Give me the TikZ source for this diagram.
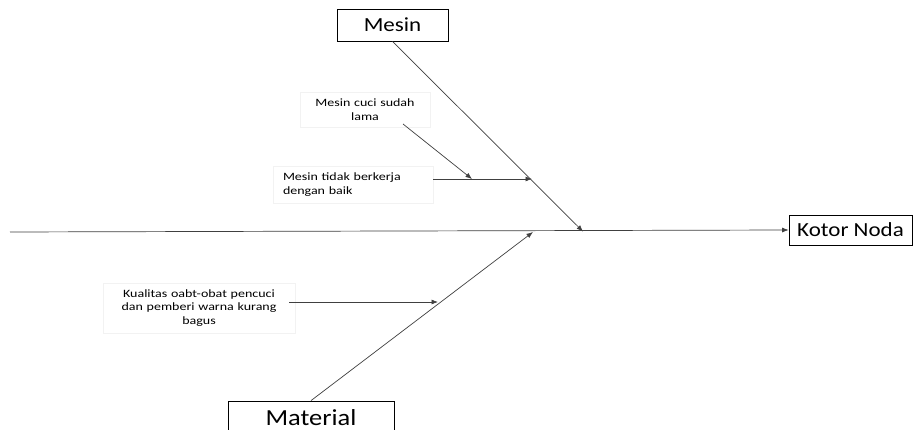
\documentclass[tikz,border=0pt]{standalone}
\usepackage{fontspec}
\setmainfont{Carlito}[FakeStretch=1.15]
\newfontfamily\causefont{Carlito}[FakeStretch=1.25]
\usetikzlibrary{arrows.meta}
\begin{document}
\begin{tikzpicture}[x=1pt,y=-1pt,
  line/.style={draw=black!75,line width=0.7pt},
  arr/.style={line,-{Latex[length=6.5pt,width=5pt]}},
  bonebox/.style={draw=black,line width=0.8pt,fill=white,inner sep=0pt},
  causebox/.style={draw=black!5,fill=white,inner ysep=4pt,inner xsep=10pt,
    font=\causefont\fontsize{11.2}{13.5}\selectfont}]
\useasboundingbox (0,0) rectangle (915,430);
\clip (0,0) rectangle (915,430);
\fill[white] (0,0) rectangle (915,430);

% category and effect boxes
\node[bonebox,minimum width=111pt,minimum height=32pt,font=\fontsize{20}{24}\selectfont]
  (mesin) at (392.5,25) {Mesin};
\node[bonebox,minimum width=166pt,minimum height=34pt,font=\fontsize{23}{27}\selectfont,
  text depth=0pt]
  (material) at (311,418) {Material};
\node[bonebox,minimum width=123pt,minimum height=30pt,font=\fontsize{20}{24}\selectfont]
  (effect) at (850.5,230) {Kotor Noda};

% cause boxes
\node[causebox,text width=110pt,align=center,minimum height=35pt]
  (c1) at (365,109.5) {Mesin cuci sudah\\lama};
\node[causebox,text width=140pt,align=left,minimum height=37pt]
  (c2) at (353,184.5) {Mesin tidak berkerja\\dengan baik};
\node[causebox,text width=172pt,align=center,minimum height=50pt]
  (c3) at (199,308) {Kualitas oabt-obat pencuci\\dan pemberi warna kurang\\bagus};

% spine
\coordinate (tail) at (10,232);
\draw[arr] (tail) -- (effect.west);

% main bones
\coordinate (hm) at (583,231.5);
\coordinate (hmat) at (533,232);
\draw[arr] (mesin.south) -- (hm);
\draw[arr] (material.north) -- (hmat);

% sub-causes
\coordinate (s1) at (403,124);
\coordinate (t1) at (472,179);
\coordinate (t2) at (532,179);
\coordinate (s3) at (289,302);
\coordinate (t3) at (438,302);
\draw[arr] (s1) -- (t1);
\draw[arr] (c2.east |- t2) -- (t2);
\draw[arr] (s3) -- (t3);
\end{tikzpicture}
\end{document}
